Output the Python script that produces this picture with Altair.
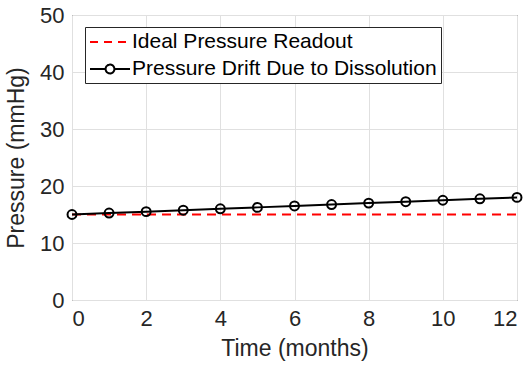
import altair as alt
import pandas as pd

months = list(range(0, 13))
ideal = [15] * 13
drift = [15.0, 15.25, 15.5, 15.75, 16.0, 16.25, 16.5, 16.75, 17.0, 17.25, 17.5, 17.75, 18.0]
series_names = ["Ideal Pressure Readout", "Pressure Drift Due to Dissolution"]

df = pd.DataFrame({
    "month": months * 2,
    "pressure": ideal + drift,
    "series": [series_names[0]] * 13 + [series_names[1]] * 13,
})

FONT = "Arial"
TXT = "#262626"

# legend glyphs (unit = half the nominal symbol width), drawn off-centre so the
# 40 px sample line fits in a 21 px tall legend row
line_path = "M-1,0H3"
circ_path = ("M-1,0H0.56M1.44,0H3M0.56,0A0.44,0.44 0 1,1 1.44,0"
             "A0.44,0.44 0 1,1 0.56,0")

legend = alt.Legend(
    title=None, orient="none", legendX=13, legendY=12,
    fillColor="white", strokeColor=TXT, padding=4,
    labelFont=FONT, labelFontSize=21, labelColor="#000000",
    symbolSize=400, symbolStrokeWidth=2, rowPadding=6, labelOffset=21,
    labelLimit=400,
)

x = alt.X("month:Q", title="Time (months)",
          scale=alt.Scale(domain=[0, 12], nice=False),
          axis=alt.Axis(values=[0, 2, 4, 6, 8, 10, 12], labelPadding=8, titlePadding=8))
y = alt.Y("pressure:Q", title="Pressure (mmHg)",
          scale=alt.Scale(domain=[0, 50], nice=False),
          axis=alt.Axis(values=[0, 10, 20, 30, 40, 50], labelPadding=8, titlePadding=11))

cscale = alt.Scale(domain=series_names, range=["#ff0000", "#000000"])
dscale = alt.Scale(domain=series_names, range=[[8, 6], [1, 0]])
sscale = alt.Scale(domain=series_names, range=[line_path, circ_path])

ideal_line = alt.Chart(df).transform_filter(
    alt.datum.series == series_names[0]
).mark_line(strokeWidth=2, color="#ff0000", strokeDash=[9, 6]).encode(
    x=x, y=y, order=alt.Order("month:Q"),
)

drift_line = alt.Chart(df).transform_filter(
    alt.datum.series == series_names[1]
).mark_line(strokeWidth=2, color="#000000").encode(
    x=x, y=y, order=alt.Order("month:Q"),
)

points = alt.Chart(df).transform_filter(
    alt.datum.series == series_names[1]
).mark_point(shape="circle", filled=False, size=80, strokeWidth=2, color="#000000", opacity=1).encode(
    x=x, y=y
)

legend_layer = alt.Chart(df).transform_filter(
    alt.datum.month < -100
).mark_point(filled=False, size=400, strokeWidth=2, opacity=1).encode(
    x=x, y=y,
    color=alt.Color("series:N", scale=cscale, legend=legend),
    strokeDash=alt.StrokeDash("series:N", scale=dscale, legend=legend),
    shape=alt.Shape("series:N", scale=sscale, legend=legend),
)

chart = alt.layer(ideal_line, drift_line, points, legend_layer).properties(
    width=445, height=285,
    autosize=alt.AutoSizeParams(type="none"),
    padding={"left": 72, "top": 15, "right": 14, "bottom": 69},
).configure_view(
    stroke=TXT, strokeWidth=1
).configure_axis(
    labelFont=FONT, titleFont=FONT, labelFontSize=22, titleFontSize=23,
    labelColor=TXT, titleColor=TXT, titleFontWeight="normal",
    domain=False, ticks=False, grid=True, gridColor="#e0e0e0", gridWidth=1,
)

chart.save("out.html", embed_options={"renderer": "svg", "actions": False})
